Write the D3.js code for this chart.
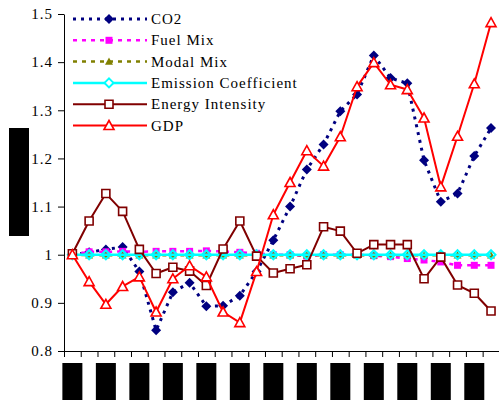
<!DOCTYPE html>
<html>
<head>
<meta charset="utf-8">
<script src="https://cdn.jsdelivr.net/npm/d3@7"></script>
<style>
  html, body { margin: 0; padding: 0; background: #fff; }
  svg { display: block; }
</style>
</head>
<body>
<svg id="chart" width="499" height="406"></svg>
<script>
// Index series, one value per period (base period = 1)
const periods = d3.range(1, 27);
const co2 = [1.000, 1.005, 1.011, 1.016, 0.965, 0.843, 0.922, 0.942, 0.893, 0.894, 0.915, 0.965, 1.030,
             1.100, 1.177, 1.229, 1.298, 1.333, 1.414, 1.367, 1.356, 1.196, 1.110, 1.127, 1.205, 1.263];
const fuelMix = [1.000, 1.006, 1.006, 1.007, 1.006, 1.007, 1.007, 1.007, 1.008, 1.007, 1.005, 1.003, 1.000,
                 1.000, 0.997, 1.000, 1.000, 1.000, 0.998, 0.996, 0.992, 0.989, 0.985, 0.978, 0.978, 0.978];
const modalMix = [1.000, 0.999, 0.999, 0.999, 0.999, 0.999, 0.999, 0.999, 0.999, 0.999, 0.999, 0.999, 0.999,
                  0.999, 0.999, 0.999, 0.999, 0.999, 0.999, 0.999, 0.999, 0.999, 0.999, 0.999, 0.999, 0.999];
const emissionCoef = [1, 1, 1, 1, 1, 1, 1, 1, 1, 1, 1, 1, 1, 1, 1, 1, 1, 1, 1, 1, 1, 1, 1, 1, 1, 1];
const energyIntensity = [1.002, 1.070, 1.127, 1.090, 1.011, 0.961, 0.974, 0.966, 0.936, 1.012, 1.070, 0.997, 0.962,
                         0.971, 0.979, 1.058, 1.049, 1.003, 1.021, 1.021, 1.021, 0.950, 0.995, 0.937, 0.920, 0.883];
const gdp = [1.000, 0.944, 0.897, 0.934, 0.954, 0.881, 0.950, 0.977, 0.954, 0.881, 0.859, 0.965, 1.083,
             1.150, 1.216, 1.184, 1.245, 1.349, 1.399, 1.353, 1.343, 1.284, 1.141, 1.246, 1.355, 1.482];

const seriesNames = ["CO2", "Fuel Mix", "Modal Mix", "Emission Coefficient", "Energy Intensity", "GDP"];
const yTicks = [0.8, 0.9, 1, 1.1, 1.2, 1.3, 1.4, 1.5];
const yTickLabels = ["0.8", "0.9", "1", "1.1", "1.2", "1.3", "1.4", "1.5"];

const FONT = '"Liberation Serif", "Times New Roman", serif';

// Drawing styles per series
const styles = [
  { color: "#000080", width: 3,   dash: "3,5", marker: "diamond",  size: 10, fill: "#000080", mstroke: 0 },
  { color: "#FF00FF", width: 2.5, dash: "4,5", marker: "square",   size: 7,  fill: "#FF00FF", mstroke: 0 },
  { color: "#808000", width: 2.5, dash: "4,5", marker: "triangle", size: 8,  fill: "#808000", mstroke: 0 },
  { color: "#00FFFF", width: 2.5, dash: null,  marker: "diamond",  size: 9,  fill: "none",    mstroke: 2 },
  { color: "#800000", width: 2,   dash: null,  marker: "square",   size: 8,  fill: "#fff",    mstroke: 1.6 },
  { color: "#FF0000", width: 2,   dash: null,  marker: "triangle", size: 10, fill: "#fff",    mstroke: 1.6 }
];
const seriesValues = [co2, fuelMix, modalMix, emissionCoef, energyIntensity, gdp];

const svg = d3.select("#chart");
const plotLeft = 64, plotRight = 499.4, plotTop = 14, plotBottom = 351;

const x = d3.scaleBand().domain(periods).range([plotLeft, plotRight]).padding(0);
const xEdge = d3.scaleLinear().domain([0, periods.length]).range([plotLeft, plotRight]);
const y = d3.scaleLinear().domain([0.8, 1.5]).range([plotBottom, plotTop]);
const cx = p => x(p) + x.bandwidth() / 2;

function markerPath(type, s) {
  const h = s / 2;
  if (type === "diamond") return `M0,${-h}L${h},0L0,${h}L${-h},0Z`;
  if (type === "square") return `M${-h},${-h}H${h}V${h}H${-h}Z`;
  return `M0,${-h}L${h},${h * 0.8}L${-h},${h * 0.8}Z`;
}

// Axes
const yAxis = d3.axisLeft(y).tickValues(yTicks)
  .tickFormat((d, i) => yTickLabels[i]).tickSize(6).tickSizeOuter(0).tickPadding(5);
const gy = svg.append("g").attr("transform", `translate(${plotLeft},0)`).call(yAxis);
gy.select(".domain").attr("stroke", "#000");
gy.selectAll(".tick line").attr("stroke", "#000");
gy.selectAll(".tick text").style("font-family", FONT).style("font-size", "15px")
  .attr("letter-spacing", "1px").attr("fill", "#000");

const xAxis = d3.axisBottom(xEdge).tickValues(d3.range(periods.length + 1))
  .tickFormat("").tickSize(6).tickSizeOuter(0);
const gx = svg.append("g").attr("transform", `translate(0,${plotBottom})`).call(xAxis);
gx.select(".domain").attr("stroke", "#000");
gx.selectAll(".tick line").attr("stroke", "#000");

// Category labels (obscured) under every other period
svg.append("g").selectAll("rect")
  .data(periods.filter((p, i) => i % 2 === 0))
  .join("rect")
  .attr("x", p => cx(p) - 10).attr("y", 363)
  .attr("width", 20).attr("height", 37).attr("fill", "#000");

// Axis title (obscured)
svg.append("rect").attr("x", 9).attr("y", 128).attr("width", 20).attr("height", 108).attr("fill", "#000");

// Series
const line = d3.line().x((d, i) => cx(periods[i])).y(d => y(d));
seriesValues.forEach((vals, k) => {
  const st = styles[k];
  const g = svg.append("g");
  g.append("path").attr("d", line(vals)).attr("fill", "none")
    .attr("stroke", st.color).attr("stroke-width", st.width)
    .attr("stroke-dasharray", st.dash).attr("stroke-linejoin", "round");
  g.selectAll("path.m").data(vals).join("path").attr("class", "m")
    .attr("transform", (d, i) => `translate(${cx(periods[i])},${y(d)})`)
    .attr("d", markerPath(st.marker, st.size))
    .attr("fill", st.fill)
    .attr("stroke", st.mstroke ? st.color : "none")
    .attr("stroke-width", st.mstroke);
});

// Legend
const legend = svg.append("g");
seriesNames.forEach((name, k) => {
  const st = styles[k];
  const ly = 19 + k * 21.3;
  legend.append("line").attr("x1", 73).attr("x2", 147).attr("y1", ly).attr("y2", ly)
    .attr("stroke", st.color).attr("stroke-width", st.width).attr("stroke-dasharray", st.dash);
  legend.append("path").attr("transform", `translate(109,${ly})`)
    .attr("d", markerPath(st.marker, st.size))
    .attr("fill", st.fill === "none" ? "#fff" : st.fill)
    .attr("stroke", st.mstroke ? st.color : "none").attr("stroke-width", st.mstroke);
  legend.append("text").attr("x", 151).attr("y", ly).attr("dy", "0.34em")
    .style("font-family", FONT).style("font-size", "15px")
    .attr("letter-spacing", "1px").attr("fill", "#000").text(name);
});
</script>
</body>
</html>
